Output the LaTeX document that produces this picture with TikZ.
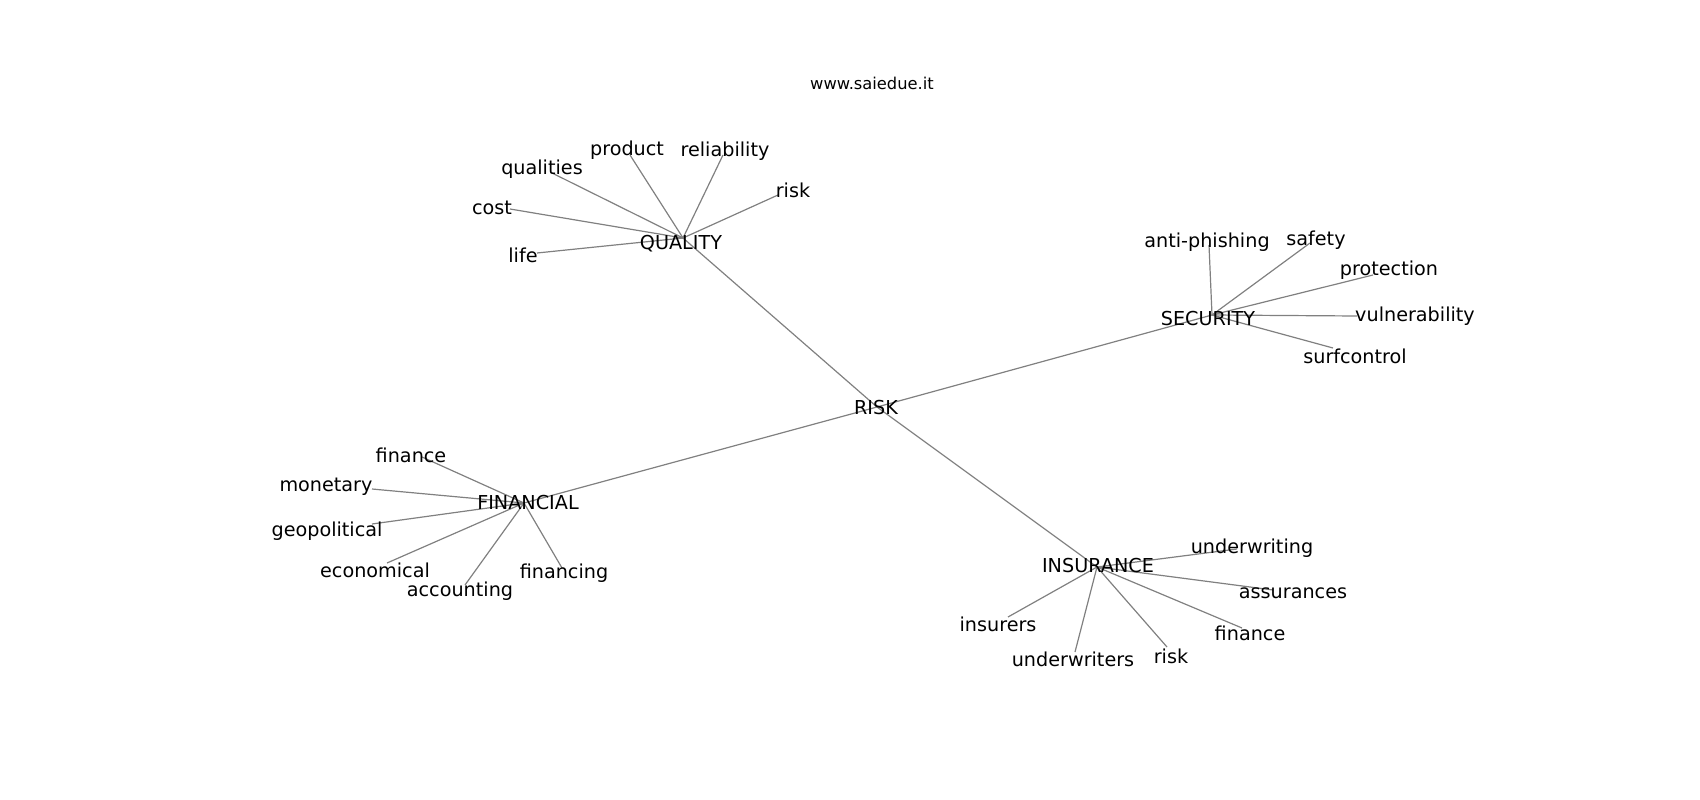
\documentclass[tikz,border=0pt]{standalone}
\usepackage{fontspec}
\setmainfont{DejaVu Sans}
\usetikzlibrary{backgrounds}

\begin{document}
\begin{tikzpicture}[
  x=1pt, y=-1pt,
  word/.style={font=\fontsize{19.2}{23}\selectfont, inner sep=0pt, text=black, yshift=-2pt},
  edge/.style={draw=black!50, line width=1.2pt}
]
  \useasboundingbox (0,0) rectangle (1700,800);
  \node[font=\fontsize{16.3}{19}\selectfont, inner sep=0pt] (site) at (872,83) {www.saiedue.it};

  % words: name/text/label x/label y/edge end x/edge end y
  \foreach \n/\t/\lx/\ly/\ex/\ey in {
    risk/RISK/876/406/877/407,
    quality/QUALITY/681/242/683/238,
    security/SECURITY/1208/317/1212/315,
    financial/FINANCIAL/528/501/524/503,
    insurance/INSURANCE/1098/564/1097/567,
    q-qualities/qualities/542/167/552/173,
    q-product/product/627/148/630/155,
    q-reliability/reliability/725/149/723/155,
    q-risk/risk/793/188/778/195,
    q-cost/cost/492/206/510/209,
    q-life/life/523/253/537/253,
    s-antiphishing/anti-phishing/1207/240/1209/245,
    s-safety/safety/1316/238/1310/243,
    s-protection/protection/1389/268/1373/275,
    s-vulnerability/vulnerability/1415/314/1357/316,
    s-surfcontrol/surfcontrol/1355/354/1333/348,
    f-finance/finance/411/453/422/457,
    f-monetary/monetary/326/485/372/489,
    f-geopolitical/geopolitical/327/529/372/524,
    f-economical/economical/375/568/387/563,
    f-accounting/accounting/460/589/465/585,
    f-financing/financing/564/571/562/568,
    i-underwriting/underwriting/1252/546/1237/549,
    i-assurances/assurances/1293/591/1273/590,
    i-insurers/insurers/998/622/1008/617,
    i-underwriters/underwriters/1073/657/1075/652,
    i-risk/risk/1171/654/1167/647,
    i-finance/finance/1250/631/1242/628}
  {
    \node[word] (\n) at (\lx,\ly) {\t};
    \coordinate (\n-end) at (\ex,\ey);
  }

  \begin{scope}[on background layer]
    \foreach \a/\b in {risk/quality, risk/security, risk/financial, risk/insurance,
      quality/q-qualities, quality/q-product, quality/q-reliability,
      quality/q-risk, quality/q-cost, quality/q-life,
      security/s-antiphishing, security/s-safety, security/s-protection,
      security/s-vulnerability, security/s-surfcontrol,
      financial/f-finance, financial/f-monetary, financial/f-geopolitical,
      financial/f-economical, financial/f-accounting, financial/f-financing,
      insurance/i-underwriting, insurance/i-assurances, insurance/i-insurers,
      insurance/i-underwriters, insurance/i-risk, insurance/i-finance}
      \draw[edge] (\a-end) -- (\b-end);
  \end{scope}
\end{tikzpicture}
\end{document}
